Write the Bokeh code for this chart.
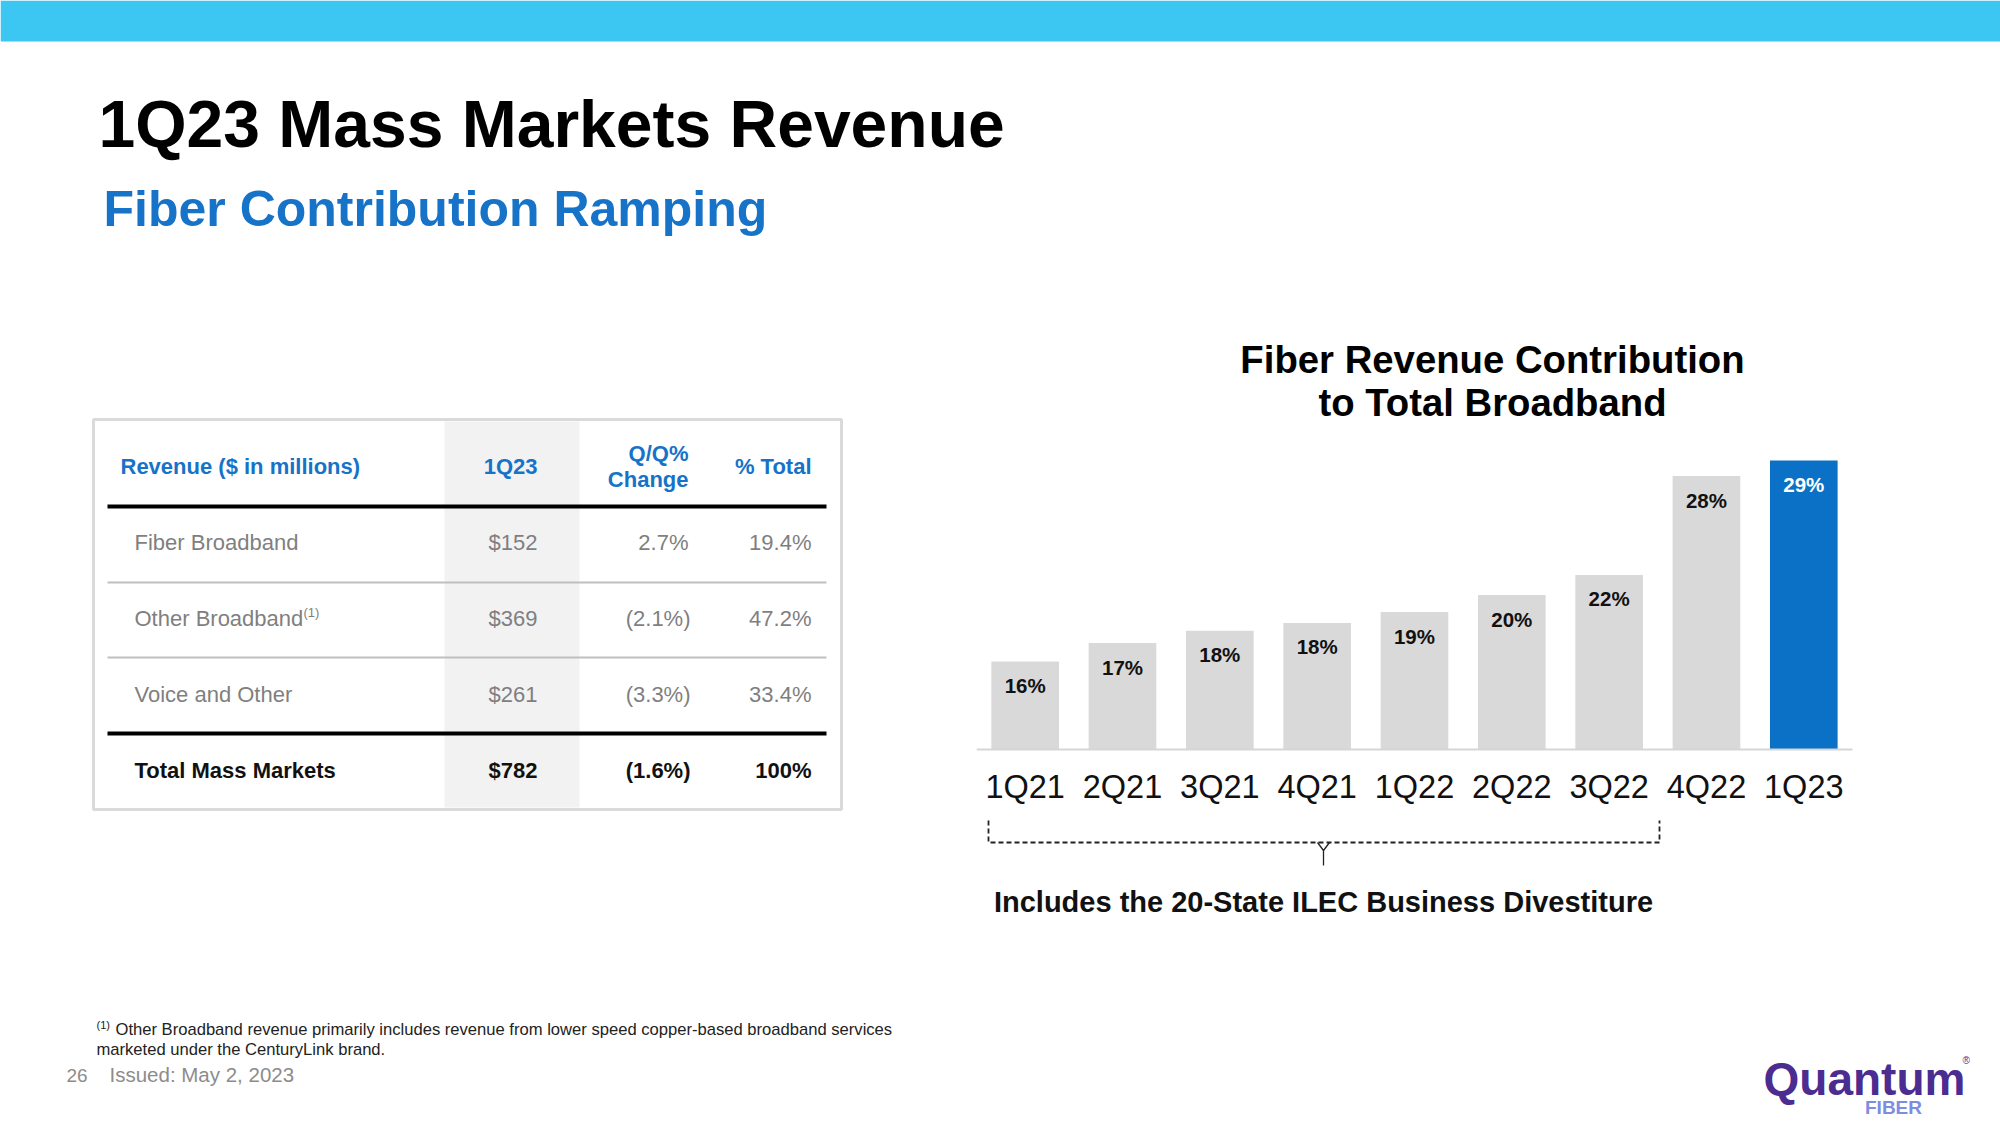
from bokeh.plotting import figure
from bokeh.layouts import column, row
from bokeh.models import Range1d, FixedTicker
from bokeh.core.properties import value
from bokeh.embed import file_html
from bokeh.resources import INLINE

# ---------------- data ----------------
quarters = ["1Q21", "2Q21", "3Q21", "4Q21", "1Q22", "2Q22", "3Q22", "4Q22", "1Q23"]
fiber_share = [16.0, 17.2, 18.0, 18.5, 19.2, 20.3, 21.6, 28.0, 29.0]
fiber_labels = ["16%", "17%", "18%", "18%", "19%", "20%", "22%", "28%", "29%"]

row_names = ["Fiber Broadband", "Other Broadband", "Voice and Other", "Total Mass Markets"]
revenue_1q23 = [152, 369, 261, 782]
qq_change = [2.7, -2.1, -3.3, -1.6]
pct_total = [19.4, 47.2, 33.4, 100]
col_headers = ["Revenue ($ in millions)", "1Q23", "Q/Q%", "Change", "% Total"]

slide_title = "1Q23 Mass Markets Revenue"
slide_subtitle = "Fiber Contribution Ramping"
chart_title = ["Fiber Revenue Contribution", "to Total Broadband"]
bracket_note = "Includes the 20-State ILEC Business Divestiture"
footnote = ["Other Broadband revenue primarily includes revenue from lower speed copper-based broadband services",
            "marketed under the CenturyLink brand."]
page_no = "26"
issued = "Issued: May 2, 2023"

# ---------------- styles ----------------
FONT = "Liberation Sans"
BLUE_TXT = "#1673C7"
BAR_GRAY = "#D9D9D9"
BAR_BLUE = "#0A71C6"
CYAN = "#3BC7F2"
GRAY_TXT = "#7F7F7F"


def txt(p, x, y, s, size, color="#000000", bold=False, align="left",
        baseline="alphabetic", **kw):
    # y is the wanted baseline in (downward) page pixels; small lift to
    # compensate for the renderer's baseline placement
    lift = 0.25 * size + 3.5
    p.text(x=[x], y=[y - lift], text=[s], text_font=value(FONT),
           text_font_size=value(f"{size}px"),
           text_font_style=value("bold" if bold else "normal"),
           text_color=value(color), text_align=value(align),
           text_baseline=value(baseline), **kw)


def blank(w, h, xr, yr):
    p = figure(width=w, height=h, x_range=xr, y_range=yr,
               output_backend="svg", toolbar_location=None, min_border=0)
    p.axis.visible = False
    p.grid.visible = False
    p.outline_line_color = None
    p.background_fill_color = "white"
    p.border_fill_color = "white"
    return p


# ---------------- top: banner + titles (page coords) ----------------
top = blank(2000, 300, Range1d(0, 2000), Range1d(300, 0))
top.quad(left=[0], right=[2000], top=[0], bottom=[41], color=CYAN, line_color=None)
txt(top, 98, 143, slide_title, 66, "#000000", bold=True)
txt(top, 103, 224, slide_subtitle, 50, BLUE_TXT, bold=True)

# ---------------- left: table + footnote (page coords) ----------------
left = blank(968, 825, Range1d(0, 968), Range1d(1125, 300))
left.quad(left=[444], right=[579], top=[421], bottom=[807], color="#F2F2F2", line_color=None)
left.quad(left=[93], right=[841], top=[419], bottom=[809], fill_color=None,
          line_color="#DADADA", line_width=3)

X_LABEL, X_HDR = 134, 120
X_C1, X_C2, X_C3 = 537, 688, 811
row_base = [551, 627, 703, 779]

# header
txt(left, X_HDR, 475, col_headers[0], 22, BLUE_TXT, bold=True)
txt(left, X_C1, 475, col_headers[1], 22, BLUE_TXT, bold=True, align="right")
txt(left, X_C2, 462, col_headers[2], 22, BLUE_TXT, bold=True, align="right")
txt(left, X_C2, 488, col_headers[3], 22, BLUE_TXT, bold=True, align="right")
txt(left, X_C3, 475, col_headers[4], 22, BLUE_TXT, bold=True, align="right")

# rules
left.segment(x0=[107, 107], x1=[826, 826], y0=[506, 733], y1=[506, 733],
             line_color="#000000", line_width=4)
left.segment(x0=[107, 107], x1=[826, 826], y0=[582, 657], y1=[582, 657],
             line_color="#BFBFBF", line_width=2)


def fmt_qq(v):
    return f"{v:.1f}%" if v >= 0 else f"({abs(v):.1f}%)"


def fmt_pct(v):
    return "100%" if v == 100 else f"{v:.1f}%"


for i, name in enumerate(row_names):
    last = i == len(row_names) - 1
    col = "#111111" if last else GRAY_TXT
    b = row_base[i]
    txt(left, X_LABEL, b, name, 22, col, bold=last)
    txt(left, X_C1, b, f"${revenue_1q23[i]}", 22, col, bold=last, align="right")
    txt(left, X_C2 + (2 if qq_change[i] < 0 else 0), b, fmt_qq(qq_change[i]), 22, col,
        bold=last, align="right")
    txt(left, X_C3, b, fmt_pct(pct_total[i]), 22, col, bold=last, align="right")

# superscript on "Other Broadband"
txt(left, 303, 619, "(1)", 13, GRAY_TXT)

# footnote
txt(left, 96, 1031, "(1)", 11, "#222222")
txt(left, 115, 1037, footnote[0], 16.6, "#222222")
txt(left, 96, 1057, footnote[1], 16.6, "#222222")
txt(left, 66, 1083, page_no, 19, "#8C8C8C")
txt(left, 109, 1083, issued, 20.5, "#8C8C8C")

# ---------------- right: bar chart ----------------
BASE = 10.28          # value at the chart baseline
Y_LO, Y_HI = -14.01, 39.355
X_LO, X_HI = -0.5, 10.021

chart = figure(width=1032, height=825, x_range=Range1d(X_LO, X_HI),
               y_range=Range1d(Y_LO, Y_HI), output_backend="svg",
               toolbar_location=None, min_border_left=8, min_border_right=0,
               min_border_top=0, min_border_bottom=0)
chart.extra_x_ranges = {"px": Range1d(976, 2000)}
chart.extra_y_ranges = {"px": Range1d(1125, 300)}
chart.grid.visible = False
chart.outline_line_color = None
chart.yaxis.visible = False
chart.background_fill_color = "white"
chart.border_fill_color = "white"

xa = chart.xaxis[0]
xa.fixed_location = BASE
xa.bounds = (-0.5, len(quarters) - 0.5)
xa.ticker = FixedTicker(ticks=list(range(len(quarters))))
xa.major_label_overrides = {i: q for i, q in enumerate(quarters)}
xa.major_tick_in = 0
xa.major_tick_out = 0
xa.minor_tick_in = 0
xa.minor_tick_out = 0
xa.axis_line_color = "#D6D6D6"
xa.axis_line_width = 2
xa.major_label_text_font = FONT
xa.major_label_text_font_size = "32.5px"
xa.major_label_text_color = "#111111"
xa.major_label_standoff = 19

idx = list(range(len(quarters)))
bar_colors = [BAR_GRAY] * (len(quarters) - 1) + [BAR_BLUE]
lab_colors = ["#111111"] * (len(quarters) - 1) + ["#FFFFFF"]
chart.vbar(x=idx, top=fiber_share, bottom=BASE, width=0.695,
           fill_color=bar_colors, line_color=None)
chart.text(x=idx, y=fiber_share, text=fiber_labels, y_offset=24,
           text_font=value(FONT), text_font_size=value("20.5px"),
           text_font_style=value("bold"), text_color=lab_colors,
           text_align=value("center"), text_baseline=value("alphabetic"))

# chart title
for t, yb in zip(chart_title, [372, 415]):
    txt(chart, 1492, yb, t, 38.3, "#000000", bold=True, align="center",
        x_range_name="px", y_range_name="px")

# bracket
chart.multi_line(xs=[[988, 988, 1659, 1659]], ys=[[820, 842, 842, 820]],
                 line_color="#222222", line_width=1.8, line_dash="5 3",
                 x_range_name="px", y_range_name="px")
chart.multi_line(xs=[[1317, 1323, 1329], [1323, 1323]], ys=[[842, 850, 842], [850, 865]],
                 line_color="#222222", line_width=1.3,
                 x_range_name="px", y_range_name="px")
txt(chart, 1323, 912, bracket_note, 29, "#111111", bold=True, align="center",
    x_range_name="px", y_range_name="px")

# logo
txt(chart, 1763, 1093, "Quantum", 46, "#4B2C91", bold=True,
    x_range_name="px", y_range_name="px")
txt(chart, 1962, 1066, "®", 10, "#4B2C91", x_range_name="px", y_range_name="px")
txt(chart, 1893, 1115, "FIBER", 19, "#7D8DE2", bold=True, align="center",
    x_range_name="px", y_range_name="px")

layout = column(top, row(left, chart))
open("out.html", "w").write(file_html(layout, INLINE))
